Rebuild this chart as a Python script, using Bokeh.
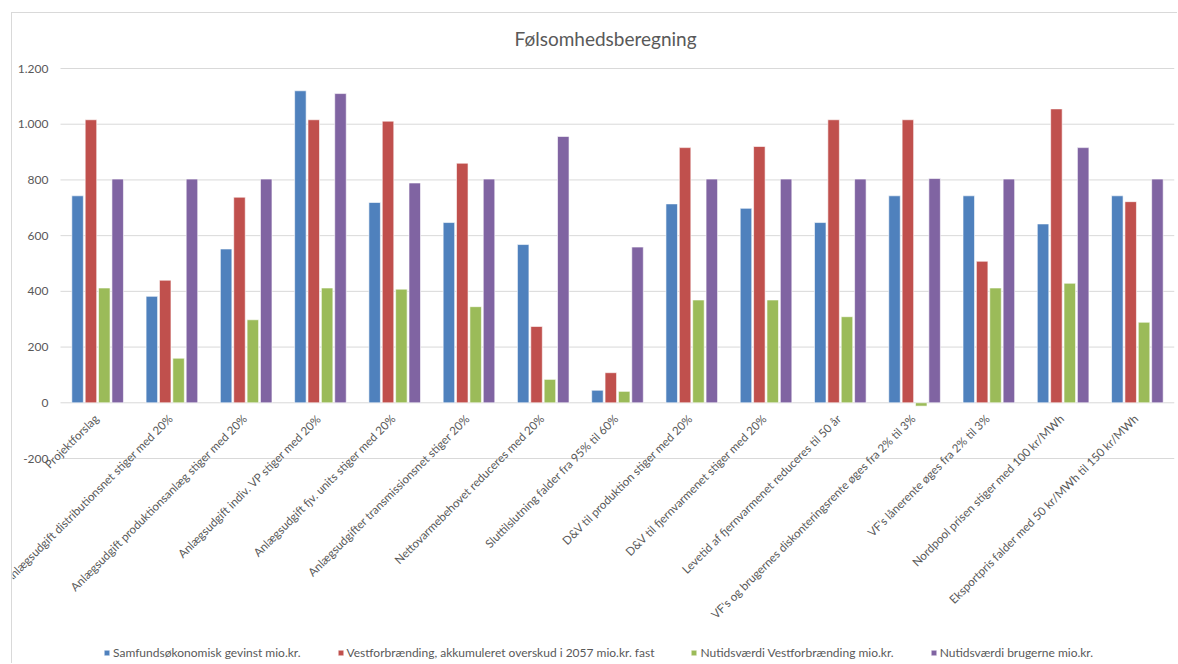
from math import pi
from bokeh.plotting import figure
from bokeh.models import ColumnDataSource, Range1d, LabelSet
from bokeh.core.properties import value
from bokeh.transform import dodge
from bokeh.embed import file_html
from bokeh.resources import INLINE

title_text = "Følsomhedsberegning"

categories = [
    "Projektforslag",
    "Anlægsudgift distributionsnet stiger med 20%",
    "Anlægsudgift produktionsanlæg stiger med 20%",
    "Anlægsudgift indiv. VP stiger med 20%",
    "Anlægsudgift fjv. units stiger med 20%",
    "Anlægsudgifter transmissionsnet stiger 20%",
    "Nettovarmebehovet reduceres med 20%",
    "Sluttilslutning falder fra 95% til 60%",
    "D&V til produktion stiger med 20%",
    "D&V til fjernvarmenet stiger med 20%",
    "Levetid af fjernvarmenet reduceres til 50 år",
    "VF's og brugernes diskonteringsrente øges fra 2% til 3%",
    "VF's lånerente øges fra 2% til 3%",
    "Nordpool prisen stiger med 100 kr/MWh",
    "Eksportpris falder med 50 kr/MWh til 150 kr/MWh",
]

series_names = [
    "Samfundsøkonomisk gevinst mio.kr.",
    "Vestforbrænding, akkumuleret overskud i 2057 mio.kr. fast",
    "Nutidsværdi Vestforbrænding mio.kr.",
    "Nutidsværdi brugerne mio.kr.",
]

samfund = [743, 382, 552, 1120, 719, 647, 568, 45, 714, 698, 647, 743, 743, 642, 743]
vestforbraending = [1016, 440, 738, 1016, 1011, 860, 274, 108, 916, 920, 1016, 1016, 508, 1055, 722]
nutid_vest = [412, 160, 298, 412, 408, 345, 84, 41, 369, 369, 309, -12, 412, 429, 289]
nutid_brugerne = [803, 803, 803, 1110, 789, 803, 956, 559, 803, 803, 803, 805, 803, 916, 803]

y_ticks = [-200, 0, 200, 400, 600, 800, 1000, 1200]
y_tick_labels = ["-200", "0", "200", "400", "600", "800", "1.000", "1.200"]

colors = ["#4F81BD", "#C0504D", "#9BBB59", "#8064A2"]
offsets = [-0.27, -0.09, 0.09, 0.27]
text_color = "#595959"
grid_color = "#d9d9d9"
font = "Lato"

# ---- layout (figure placed at page x=12, y=13 through its margin) ----
W, H = 1166, 651
top_border = 47
right_border = 4
frame_w = W - right_border
frame_h = H - top_border
label_gutter = 48                     # room at the left of the frame for the value labels
px_per_cat = (frame_w - label_gutter) / len(categories)
n = len(categories)
x_end = n - 0.5
x_start = x_end - frame_w / px_per_cat
px_per_unit = 390.0 / 1400.0
y_end = 1200 + 8 / px_per_unit
y_start = y_end - frame_h / px_per_unit

idx = list(range(n))
source = ColumnDataSource(dict(
    idx=idx, cat=categories,
    s0=samfund, s1=vestforbraending, s2=nutid_vest, s3=nutid_brugerne,
    zero=[0] * n,
))
tick_source = ColumnDataSource(dict(
    tick=y_ticks, label=y_tick_labels,
    x0=[-0.5] * len(y_ticks), x1=[n - 0.5] * len(y_ticks),
    sx=[label_gutter - 12] * len(y_ticks),
))

p = figure(
    x_range=Range1d(x_start, x_end),
    y_range=Range1d(y_start, y_end),
    width=W, height=H,
    output_backend="svg", toolbar_location=None,
    min_border_left=0, min_border_right=right_border,
    min_border_top=top_border, min_border_bottom=0,
)
p.margin = (12, 0, 0, 11)
p.styles = {"border-top": "1px solid #d9d9d9", "border-left": "1px solid #d9d9d9"}
p.outline_line_color = None
p.xaxis.visible = False
p.yaxis.visible = False
p.xgrid.visible = False
p.ygrid.visible = False

# horizontal gridlines across the category area
p.segment(x0="x0", x1="x1", y0="tick", y1="tick", source=tick_source,
          line_color=grid_color, line_width=1, level="underlay")

# value labels
p.add_layout(LabelSet(x="sx", y="tick", text="label", source=tick_source, x_units="screen",
                      text_align="right", text_baseline="middle",
                      text_font=value(font), text_font_size=value("12px"),
                      text_color=value(text_color)))

for i, key in enumerate(["s0", "s1", "s2", "s3"]):
    p.vbar(x=dodge("idx", offsets[i]), top=key, bottom=0, width=0.155,
           source=source, fill_color=colors[i], line_color="white", line_width=0.6,
           legend_label=series_names[i])

# category labels
p.add_layout(LabelSet(x="idx", y="zero", text="cat", source=source, angle=pi / 4,
                      text_align="right", text_baseline="top", x_offset=-6, y_offset=-9,
                      text_font=value(font), text_font_size=value("11.6px"),
                      text_color=value(text_color)))

p.title.text = title_text
p.title.align = "left"
p.title.offset = 502
p.title.standoff = 21
p.title.text_font = font
p.title.text_font_size = "19px"
p.title.text_font_style = "normal"
p.title.text_color = text_color

lg = p.legend[0]
lg.orientation = "horizontal"
lg.location = (91, 4)
lg.padding = 0
lg.margin = 0
lg.spacing = 36
lg.glyph_width = 7
lg.glyph_height = 7
lg.label_standoff = 3
lg.label_text_font = font
lg.label_text_font_size = "12px"
lg.label_text_color = text_color
lg.border_line_color = None
lg.background_fill_alpha = 0

open("out.html", "w").write(file_html(p, INLINE))
